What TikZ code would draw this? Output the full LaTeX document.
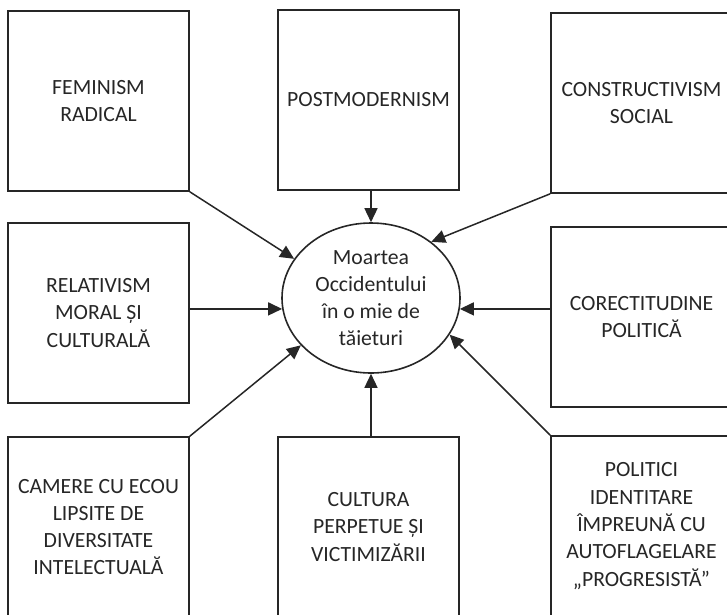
\documentclass[tikz,border=0pt]{standalone}
\usepackage{fontspec}
\setmainfont{Carlito}
\usetikzlibrary{arrows.meta,shapes.geometric}
\definecolor{ln}{HTML}{262626}
\definecolor{tx}{HTML}{262626}
\begin{document}
\begin{tikzpicture}[x=1pt,y=-1pt,
  box/.style={draw=ln, line width=1.6pt, minimum width=181pt, minimum height=180pt,
    inner sep=0pt, align=center, text=tx, font=\fontsize{21.7}{27.3}\selectfont},
  hub/.style={ellipse, draw=ln, line width=1.6pt, minimum width=178pt, minimum height=150pt,
    inner sep=0pt, align=center, text=tx, font=\fontsize{21.7}{27}\selectfont},
  arr/.style={draw=ln, line width=1.5pt, -{Triangle[length=14pt,width=13pt]}}]
\useasboundingbox (0,0) rectangle (727,614);
\node[box] (fem) at (98.5,101) {FEMINISM\\RADICAL};
\node[box] (post) at (368.5,100) {POSTMODERNISM};
\node[box] (cons) at (641.5,103) {CONSTRUCTIVISM\\SOCIAL};
\node[box] (rel) at (98.5,313) {RELATIVISM\\MORAL ȘI\\CULTURALĂ};
\node[box] (cor) at (641.5,317) {CORECTITUDINE\\POLITICĂ};
\node[box] (cam) at (98.5,527) {CAMERE CU ECOU\\LIPSITE DE\\DIVERSITATE\\INTELECTUALĂ};
\node[box] (cul) at (368.5,527) {CULTURA\\PERPETUE ȘI\\VICTIMIZĂRII};
\node[box] (pol) at (641.5,526) {POLITICI\\IDENTITARE\\ÎMPREUNĂ CU\\AUTOFLAGELARE\\„PROGRESISTĂ”};
\node[hub] (e) at (371,298) {Moartea\\Occidentului\\în o mie de\\tăieturi};
\draw[arr] (fem.south east) -- (e.153);
\draw[arr] (e.north |- post.south) -- (e.north);
\draw[arr] (cons.south west) -- (e.43);
\draw[arr] (rel.east |- e.187) -- (e.187);
\draw[arr] (cor.west |- e.353) -- (e.353);
\draw[arr] (cam.north east) -- (e.214);
\draw[arr] (e.south |- cul.north) -- (e.south);
\draw[arr] (pol.north west) -- (e.-25);
\end{tikzpicture}
\end{document}
